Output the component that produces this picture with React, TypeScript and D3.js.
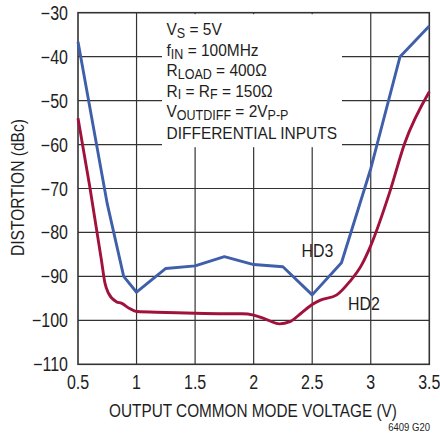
import React from "react";
import * as d3 from "d3";

const hd3X = [0.5, 0.75, 0.89, 1.0, 1.25, 1.5, 1.75, 2.0, 2.25, 2.5, 2.75, 3.0, 3.25, 3.5];
const hd3Y = [-36.6, -73.5, -90, -93.6, -88.2, -87.6, -85.5, -87.3, -87.8, -94.2, -86.9, -65.5, -40, -33];

const hd2X = [0.5, 0.6, 0.7, 0.73, 0.76, 0.83, 0.87, 0.94, 1.0, 1.25, 1.5, 1.75, 1.9, 2.0, 2.1, 2.22, 2.31, 2.4, 2.5, 2.57, 2.71, 2.82, 2.92, 3.0, 3.16, 3.29, 3.5];
const hd2Y = [-54, -69.5, -86.3, -91.5, -93.8, -95.8, -96.1, -97.3, -98.0, -98.2, -98.4, -98.5, -98.5, -98.8, -99.7, -100.8, -100.3, -98.5, -96.4, -95.4, -94.2, -91.2, -87.5, -83, -71, -59.7, -48];

const xTicks = [0.5, 1, 1.5, 2, 2.5, 3, 3.5];
const xTickLabels = ["0.5", "1", "1.5", "2", "2.5", "3", "3.5"];
const yTicks = [-30, -40, -50, -60, -70, -80, -90, -100, -110];

const FONT = "'Liberation Sans', Arial, sans-serif";
const BLUE = "#3f5faa";
const RED = "#a0123c";
const GRID = "#333";
const INK = "#1e1e1e";

type TProps = {
  x: number;
  y: number;
  sx?: number;
  size: number;
  anchor?: "start" | "middle" | "end";
  rotate?: number;
  dy?: string;
  children: React.ReactNode;
};

function T({ x, y, sx = 0.82, size, anchor = "start", rotate, dy, children }: TProps) {
  const tr = `translate(${x},${y})${rotate ? ` rotate(${rotate})` : ""} scale(${sx},1)`;
  return (
    <g transform={tr}>
      <text x={0} y={0} dy={dy} textAnchor={anchor} fontSize={size} fill={INK}>
        {children}
      </text>
    </g>
  );
}

export default function App() {
  const x = d3.scaleLinear().domain([0.5, 3.5]).range([78, 429.3]);
  const y = d3.scaleLinear().domain([-110, -30]).range([364.3, 12.7]);

  const lineLin = d3.line<[number, number]>().x(d => x(d[0])).y(d => y(d[1]));
  const lineSmooth = d3
    .line<[number, number]>()
    .x(d => x(d[0]))
    .y(d => y(d[1]))
    .curve(d3.curveMonotoneX);

  const hd3 = hd3X.map((v, i) => [v, hd3Y[i]] as [number, number]);
  const hd2 = hd2X.map((v, i) => [v, hd2Y[i]] as [number, number]);

  const ann: { b: number; parts: [string, number][] }[] = [
    { b: 35, parts: [["V", 0], ["S", 1], [" = 5V", 0]] },
    { b: 55.7, parts: [["f", 0], ["IN", 1], [" = 100MHz", 0]] },
    { b: 76.3, parts: [["R", 0], ["LOAD", 1], [" = 400Ω", 0]] },
    { b: 96.5, parts: [["R", 0], ["I", 1], [" = R", 0], ["F", 1], [" = 150Ω", 0]] },
    { b: 117, parts: [["V", 0], ["OUTDIFF", 1], [" = 2V", 0], ["P-P", 1]] },
    { b: 139.3, parts: [["DIFFERENTIAL INPUTS", 0]] },
  ];

  return (
    <svg
      width={440}
      height={434}
      style={{ position: "absolute", left: 0, top: 0, background: "#fff" }}
      fontFamily={FONT}
    >
      <rect x={0} y={0} width={440} height={434} fill="#fff" />
      {/* grid */}
      {yTicks.slice(1, -1).map(t => (
        <line key={"h" + t} x1={x(0.5)} x2={x(3.5)} y1={y(t)} y2={y(t)} stroke={GRID} strokeWidth={1.2} />
      ))}
      {xTicks.slice(1, -1).map(t => (
        <line key={"v" + t} x1={x(t)} x2={x(t)} y1={y(-30)} y2={y(-110)} stroke={GRID} strokeWidth={1.2} />
      ))}
      {/* annotation box knockout */}
      <rect x={162} y={y(-30) + 1.5} width={180} height={133} fill="#fff" />
      <rect x={x(0.5)} y={y(-30)} width={x(3.5) - x(0.5)} height={y(-110) - y(-30)} fill="none" stroke={GRID} strokeWidth={1.6} />

      {/* curves */}
      <path d={lineSmooth(hd2) || ""} fill="none" stroke={RED} strokeWidth={2.9} strokeLinejoin="round" />
      <path d={lineLin(hd3) || ""} fill="none" stroke={BLUE} strokeWidth={2.9} strokeLinejoin="round" />

      {/* y tick labels */}
      {yTicks.map(t => (
        <T key={"yl" + t} x={68} y={y(t)} dy="0.36em" anchor="end" size={19.5}>
          {"\u2212" + Math.abs(t)}
        </T>
      ))}
      {/* x tick labels */}
      {xTicks.map((t, i) => (
        <T key={"xl" + t} x={x(t)} y={389} anchor="middle" size={19.5}>
          {xTickLabels[i]}
        </T>
      ))}
      <T x={253} y={416.7} anchor="middle" size={18.7}>
        OUTPUT COMMON MODE VOLTAGE (V)
      </T>
      <T x={23.5} y={187.5} rotate={-90} anchor="middle" size={19}>
        DISTORTION (dBc)
      </T>
      <T x={430} y={431} anchor="end" size={11.6}>
        6409 G20
      </T>

      {/* annotation */}
      {ann.map((a, i) => (
        <g key={"a" + i} transform={`translate(166.5,${a.b}) scale(0.895,1)`}>
          <text x={0} y={0} fontSize={17.3} fill={INK}>
            {a.parts.map((p, j) => {
              const sub = p[1] === 1;
              const prevSub = j > 0 && a.parts[j - 1][1] === 1;
              const dy = sub ? (prevSub ? 0 : 2.8) : prevSub ? -2.8 : 0;
              return (
                <tspan key={j} dy={dy} fontSize={sub ? 14 : 17.3}>
                  {p[0]}
                </tspan>
              );
            })}
          </text>
        </g>
      ))}

      <T x={301.5} y={256.7} sx={0.86} size={18.5}>HD3</T>
      <T x={348} y={310} sx={0.86} size={18.5}>HD2</T>
    </svg>
  );
}
